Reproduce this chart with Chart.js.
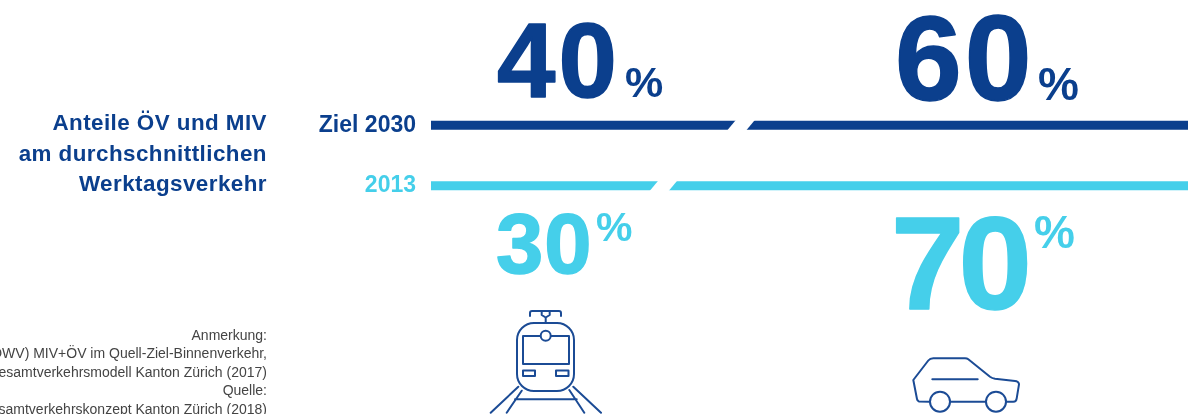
<!DOCTYPE html>
<html>
<head>
<meta charset="utf-8">
<title>Anteile ÖV und MIV</title>
<script src="https://cdn.jsdelivr.net/npm/chart.js@4/dist/chart.umd.min.js"></script>
<style>
  html, body { margin: 0; padding: 0; background: #fff; width: 1188px; height: 414px; overflow: hidden; }
  body { position: relative; font-family: "Liberation Sans", Arial, sans-serif; }
  #chart { position: absolute; left: 0; top: 0; }
  .title { position: absolute; right: 921px; top: 108px; width: 300px; text-align: right; color: #0b3f8d; font-weight: 700; font-size: 22.4px; letter-spacing: 0.45px; line-height: 30.6px; }
  .note { position: absolute; right: 921px; top: 325.5px; width: 340px; text-align: right; color: #444; font-size: 14px; line-height: 18.5px; white-space: nowrap; }
  svg.icons { position: absolute; left: 0; top: 0; }
  svg.icons * { fill: none; stroke: #1b4b95; stroke-width: 2; stroke-linecap: round; stroke-linejoin: round; }
</style>
</head>
<body>
<canvas id="chart" width="1206" height="414"></canvas>

<div class="title">Anteile ÖV und MIV<br>am durchschnittlichen<br>Werktagsverkehr</div>
<div class="note">Anmerkung:<br>(DWV) MIV+ÖV im Quell-Ziel-Binnenverkehr,<br>Gesamtverkehrsmodell Kanton Zürich (2017)<br>Quelle:<br>Gesamtverkehrskonzept Kanton Zürich (2018)</div>

<svg class="icons" width="1188" height="414">
  <!-- train -->
  <rect x="517" y="323" width="57" height="68" rx="17"/>
  <rect x="523" y="336" width="46" height="28"/>
  <circle cx="545.7" cy="335.7" r="5" style="fill:#fff"/>
  <path d="M530 316v-3q0-2 2-2h27q2 0 2 2v3M541.7 311v4l4 2.5 4-2.5v-4M545.7 317.5V323"/>
  <rect x="523" y="370.5" width="12" height="5.5"/>
  <rect x="556" y="370.5" width="12.5" height="5.5"/>
  <path d="M518.3 386.7 490.7 412.7M521.7 390.7 506.7 412.7M515 399.3H576.7M569.3 390 584.3 412.7M573.3 386.7 601 412.7"/>
  <!-- car -->
  <path d="M929.3 401.7 919 401.5Q917.3 401 917 399L913.3 380 928.3 360.5Q930 358.3 933.3 358.3H965Q967 358.3 968.3 359.3L990 376.7Q992 378.2 995 378.7L1015 381Q1019 381.5 1019 384.3L1016.7 398.3Q1016.3 401.7 1013.3 401.7H1006M950 401.7H985.7M932.3 379.3H977.7"/>
  <circle cx="940" cy="401.7" r="10"/>
  <circle cx="996" cy="401.7" r="10"/>
</svg>

<script>
const categories = ['Ziel 2030', '2013'];
const oevShare = [40, 30];
const mivShare = [60, 70];

const DARK_BLUE = '#0b3f8d';
const LIGHT_BLUE = '#45cfea';
const rowColors = [DARK_BLUE, LIGHT_BLUE];

// where the big percentages sit, one entry per dataset/row
const bigLabels = [
  { dataset: 0, row: 0, x: 497, y: 97, size: 105, spacing: 3, pctX: 625, pctY: 97, pctSize: 43 },
  { dataset: 1, row: 0, x: 895, y: 100, size: 120, spacing: 3, pctX: 1038, pctY: 100, pctSize: 46 },
  { dataset: 0, row: 1, x: 496, y: 273, size: 85, spacing: 1, pctX: 596, pctY: 241, pctSize: 41 },
  { dataset: 1, row: 1, x: 891, y: 309, size: 132, spacing: -6, pctX: 1034, pctY: 248, pctSize: 46 }
];

// white slanted cut between the two parts of each bar
const slantCut = {
  id: 'slantCut',
  afterDatasetsDraw(chart) {
    const { ctx, scales: { x } } = chart;
    const bars = chart.getDatasetMeta(0).data;
    ctx.save();
    ctx.fillStyle = '#fff';
    bars.forEach((bar, i) => {
      const mid = x.getPixelForValue(oevShare[i]);
      const top = bar.y - 6, bottom = bar.y + 6;
      const lean = 5, half = 9.5;
      ctx.beginPath();
      ctx.moveTo(mid - half + lean, top);
      ctx.lineTo(mid + half + lean, top);
      ctx.lineTo(mid + half - lean, bottom);
      ctx.lineTo(mid - half - lean, bottom);
      ctx.closePath();
      ctx.fill();
    });
    ctx.restore();
  }
};

// big percentage figures above and below the bars
const shareLabels = {
  id: 'shareLabels',
  afterDraw(chart) {
    const { ctx } = chart;
    ctx.save();
    ctx.textAlign = 'left';
    ctx.textBaseline = 'alphabetic';
    ctx.lineJoin = 'round';
    bigLabels.forEach(l => {
      const value = chart.data.datasets[l.dataset].data[l.row];
      ctx.fillStyle = rowColors[l.row];
      ctx.strokeStyle = rowColors[l.row];
      ctx.lineWidth = 1.5;
      ctx.letterSpacing = l.spacing + 'px';
      ctx.font = `700 ${l.size}px "Liberation Sans", Arial, sans-serif`;
      ctx.fillText(String(value), l.x, l.y);
      ctx.strokeText(String(value), l.x, l.y);
      ctx.letterSpacing = '0px';
      ctx.font = `700 ${l.pctSize}px "Liberation Sans", Arial, sans-serif`;
      ctx.fillText('%', l.pctX, l.pctY);
    });
    ctx.restore();
  }
};

new Chart(document.getElementById('chart').getContext('2d'), {
  type: 'bar',
  data: {
    labels: categories,
    datasets: [
      { label: 'ÖV', data: oevShare, backgroundColor: rowColors, borderWidth: 0, barThickness: 8.5 },
      { label: 'MIV', data: mivShare, backgroundColor: rowColors, borderWidth: 0, barThickness: 8.5 }
    ]
  },
  options: {
    indexAxis: 'y',
    responsive: false,
    animation: false,
    layout: { padding: { top: 95, bottom: 198, left: 0, right: 0 } },
    plugins: { legend: { display: false }, tooltip: { enabled: false } },
    scales: {
      x: { stacked: true, min: 0, max: 100, display: false },
      y: {
        stacked: true,
        afterFit(scale) { scale.width = 431; },
        grid: { display: false },
        border: { display: false },
        ticks: {
          padding: 7,
          color: ctx => rowColors[ctx.index],
          font: { family: '"Liberation Sans", Arial, sans-serif', size: 23, weight: '700' }
        }
      }
    }
  },
  plugins: [slantCut, shareLabels]
});
</script>
</body>
</html>
